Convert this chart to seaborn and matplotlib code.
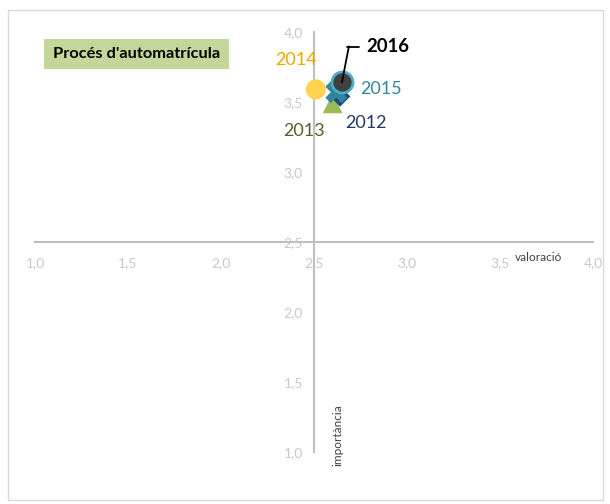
import numpy as np
import pandas as pd
import seaborn as sns
import matplotlib.pyplot as plt
from matplotlib.patches import Rectangle
from matplotlib.ticker import FuncFormatter

# data
years = ["2013", "2012", "2015", "2014", "2016"]
valoracio = [2.60, 2.64, 2.62, 2.51, 2.65]
importancia = [3.49, 3.54, 3.57, 3.59, 3.64]
ticks = [1.0, 1.5, 2.0, 2.5, 3.0, 3.5, 4.0]

colors = {"2013": "#9bbb59", "2012": "#1f497d", "2015": "#31859c",
          "2014": "#ffd34f", "2016": "#404040"}
label_colors = {"2013": "#4f6228", "2012": "#1f3a5f", "2015": "#31859c",
                "2014": "#e6a800", "2016": "black"}
markers = {"2013": "^", "2012": "D", "2015": "X", "2014": "o", "2016": "o"}
msizes = {"2013": 200, "2012": 110, "2015": 250, "2014": 210, "2016": 230}

df = pd.DataFrame({"any": years, "valoracio": valoracio, "importancia": importancia})

sns.set_style("white")
plt.rcParams['font.family'] = ['Lato', 'DejaVu Sans']

fig = plt.figure(figsize=(6.10, 5.04), dpi=100)
ax = fig.add_axes([35/610, 1-452/504, (593-35)/610, (452-32)/504])

for y in years:
    sub = df[df["any"] == y]
    ec = "#4bacc6" if y == "2016" else "none"
    sns.scatterplot(data=sub, x="valoracio", y="importancia", color=colors[y],
                    marker=markers[y], s=msizes[y], edgecolor=ec,
                    linewidth=2 if y == "2016" else 0, ax=ax, zorder=3, legend=False)

ax.set_xlim(1, 4)
ax.set_ylim(1, 4)
ax.set_xticks(ticks)
ax.set_yticks(ticks)
fmt = FuncFormatter(lambda v, p: f"{v:.1f}".replace(".", ","))
ax.xaxis.set_major_formatter(fmt)
ax.yaxis.set_major_formatter(fmt)
for side in ["top", "right"]:
    ax.spines[side].set_visible(False)
ax.spines["left"].set_position(("data", 2.5))
ax.spines["bottom"].set_position(("data", 2.5))
for side in ["left", "bottom"]:
    ax.spines[side].set_color("#bfbfbf")
    ax.spines[side].set_linewidth(1.5)
ax.tick_params(axis="x", direction="in", length=4, width=1.2, color="#bfbfbf",
               labelcolor="#c8c8c8", labelsize=10, pad=11)
ax.tick_params(axis="y", direction="out", length=4, width=1.2, color="#bfbfbf",
               labelcolor="#c8c8c8", labelsize=10, pad=4)
ax.set_xlabel("")
ax.set_ylabel("")
ax.patch.set_alpha(0)

# labels next to the points (offsets in pixels)
offsets = {"2014": (-20, 29), "2015": (24, 3), "2012": (26, -27), "2013": (-29, -28)}
has = {"2014": "center", "2015": "left", "2012": "center", "2013": "center"}
for y, xv, yv in zip(years, valoracio, importancia):
    if y == "2016":
        continue
    ax.annotate(y, (xv, yv), xytext=offsets[y], textcoords="offset pixels",
                ha=has[y], va="center", fontsize=13, color=label_colors[y])

# leader line for 2016
i16 = years.index("2016")
ax.annotate("", (valoracio[i16], importancia[i16]), xytext=(7, 36),
            textcoords="offset pixels",
            arrowprops=dict(arrowstyle="-", color="black", lw=1.3,
                            shrinkA=0, shrinkB=0))
fig.lines.append(plt.Line2D([347/610, 359/610], [1-47/504, 1-47/504],
                            transform=fig.transFigure, color="black", lw=1.3))
fig.text(366/610, 1-46/504, "2016", fontsize=13.3, fontweight="bold",
         color="black", va="center", ha="left")

ax.text(3.58, 2.39, "valoració", fontsize=8.5, color="#404040", va="center")
fig.text(338/610, 1-435/504, "importància", fontsize=8.5, color="#404040",
         rotation=90, ha="center", va="center")

fig.patches.append(Rectangle((44/610, 1-69/504), 185/610, 30/504,
                             transform=fig.transFigure, facecolor="#c4d79b",
                             edgecolor="none"))
fig.text(137/610, 1-54/504, "Procés d'automatrícula", fontsize=11.8,
         fontweight="bold", color="black", ha="center", va="center")

fig.patches.append(Rectangle((8/610, 1-500/504), 595/610, 490/504,
                             transform=fig.transFigure, facecolor="none",
                             edgecolor="#d9d9d9", lw=1))

fig.savefig("out.png", dpi=100)
